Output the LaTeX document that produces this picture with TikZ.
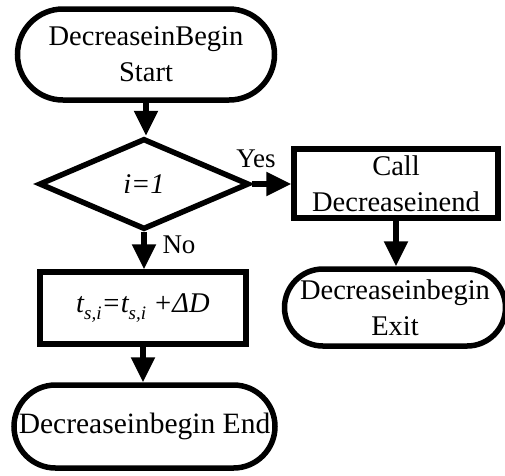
\documentclass[tikz,border=0pt]{standalone}
\usepackage{fontspec}
\setmainfont{Liberation Serif}
\usetikzlibrary{shapes.misc,shapes.geometric,arrows.meta}
\begin{document}
\begin{tikzpicture}[x=1pt,y=-1pt,
  every node/.style={font=\fontsize{28.5}{36}\selectfont, align=center, line width=5.5pt, inner sep=0pt},
  term/.style={draw, rounded rectangle},
  procbox/.style={draw, rectangle},
  decide/.style={draw, diamond},
  flow/.style={line width=5.5pt, -{Triangle[length=25pt,width=23pt]}},
  lbl/.style={font=\fontsize{27}{30}\selectfont}]
\useasboundingbox (0,0) rectangle (505,475);
\node[term, minimum width=257pt, minimum height=91pt] (start) at (146,54.5) {DecreaseinBegin\\Start};
\node[decide, minimum width=210pt, minimum height=91pt] (dec) at (144,184) {\textit{i=1}};
\node[procbox, minimum width=204pt, minimum height=69pt] (call) at (396,183.5) {Call\\Decreaseinend};
\node[term, minimum width=221pt, minimum height=77pt] (exit) at (395,307.5) {Decreaseinbegin\\Exit};
\node[procbox, minimum width=206pt, minimum height=72pt] (upd) at (143,308) {\textit{t\raisebox{-7pt}{\fontsize{19}{19}\selectfont s,i}=t\raisebox{-7pt}{\fontsize{19}{19}\selectfont s,i} +ΔD}};
\node[term, minimum width=261pt, minimum height=83pt, font=\fontsize{29.5}{36}\selectfont] (end) at (144.5,426.5) {Decreaseinbegin End};
\draw[flow] (start.south) -- (start.south |- dec.north);
\draw[flow] (dec.east) -- (call.west |- dec.east);
\draw[flow] (dec.south) -- (dec.south |- upd.north);
\draw[flow] (call.south) -- (call.south |- exit.north);
\draw[flow] (upd.south) -- (upd.south |- end.north);
\node[lbl] (yes) at (256,159) {Yes};
\node[lbl] (no) at (179,245) {No};
\end{tikzpicture}
\end{document}
